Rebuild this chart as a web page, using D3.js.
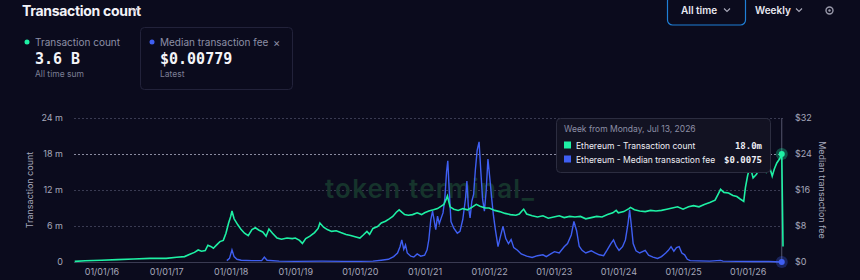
<!DOCTYPE html>
<html>
<head>
<meta charset="utf-8">
<script src="https://cdn.jsdelivr.net/npm/d3@7"></script>
<style>
  body { margin: 0; background: #0b0b1d; }
  svg { display: block; font-family: Inter, "Noto Sans", sans-serif; }
</style>
</head>
<body>
<div id="chart"></div>
<script>
// weekly transaction count (millions)
let countDates = ["2015-08-03","2015-10-01","2016-01-01","2016-04-01","2016-07-01","2016-10-01","2017-01-01","2017-03-01","2017-04-15","2017-05-15","2017-06-10","2017-07-01","2017-07-20","2017-08-10","2017-08-25","2017-09-10","2017-09-25","2017-10-15","2017-11-01","2017-11-20","2017-12-05","2017-12-20","2018-01-01","2018-01-08","2018-01-20","2018-02-10","2018-03-01","2018-03-20","2018-04-10","2018-05-01","2018-05-20","2018-06-10","2018-07-01","2018-07-20","2018-08-05","2018-08-25","2018-09-20","2018-10-15","2018-11-15","2018-12-15","2019-01-01","2019-01-25","2019-02-10","2019-03-01","2019-03-25","2019-04-20","2019-05-10","2019-05-20","2019-06-10","2019-07-01","2019-07-25","2019-08-20","2019-09-15","2019-10-15","2019-11-10","2019-12-05","2020-01-01","2020-01-20","2020-02-10","2020-02-25","2020-03-15","2020-04-10","2020-05-01","2020-05-25","2020-06-15","2020-07-05","2020-07-25","2020-08-10","2020-08-25","2020-09-10","2020-10-01","2020-10-25","2020-11-20","2020-12-15","2021-01-01","2021-01-25","2021-02-20","2021-03-15","2021-04-05","2021-04-20","2021-05-05","2021-05-10","2021-05-25","2021-06-15","2021-07-10","2021-08-05","2021-09-01","2021-09-25","2021-10-20","2021-11-10","2021-12-10","2022-01-01","2022-02-01","2022-03-01","2022-04-01","2022-05-01","2022-06-01","2022-06-20","2022-07-05","2022-07-15","2022-08-01","2022-09-01","2022-10-01","2022-11-01","2022-12-01","2023-01-01","2023-02-01","2023-03-01","2023-04-01","2023-05-01","2023-06-01","2023-07-01","2023-08-01","2023-09-01","2023-10-01","2023-11-01","2023-12-01","2023-12-20","2024-01-01","2024-02-01","2024-03-01","2024-03-10","2024-04-01","2024-05-01","2024-06-01","2024-07-01","2024-08-01","2024-09-01","2024-10-01","2024-11-01","2024-12-01","2025-01-01","2025-02-01","2025-03-01","2025-04-01","2025-05-01","2025-06-01","2025-07-01","2025-07-20","2025-08-01","2025-08-20","2025-09-15","2025-10-10","2025-11-01","2025-11-20","2025-12-10","2025-12-20","2026-01-01","2026-01-15","2026-02-01","2026-02-20","2026-03-05","2026-03-25","2026-04-15","2026-05-01","2026-05-20","2026-06-01","2026-06-15","2026-07-01","2026-07-13","2026-07-20"]
let countValues = [0.1,0.2,0.3,0.4,0.5,0.6,0.6,0.8,0.9,1.3,1.6,2.0,1.8,1.9,2.8,2.6,2.3,2.9,3.4,3.6,4.8,6.5,7.6,8.5,7.2,6.2,5.4,4.8,4.4,5.4,5.7,5.3,5.0,4.3,5.5,4.8,4.0,3.8,4.0,3.9,4.0,3.6,3.1,3.9,4.3,4.9,5.6,6.5,5.8,5.4,5.1,5.2,4.9,4.6,4.4,4.2,4.0,4.5,5.1,4.6,5.6,5.9,6.5,6.8,7.2,7.6,8.3,8.7,8.3,7.9,7.8,7.9,8.2,7.9,8.2,8.5,8.7,8.9,9.3,9.6,10.6,11.0,9.2,8.8,8.6,8.9,8.7,9.1,9.6,9.3,9.0,9.0,8.6,8.4,8.1,7.9,7.8,8.0,8.5,8.8,8.0,7.7,7.5,7.7,7.3,7.5,7.7,7.4,7.6,7.5,7.6,7.2,7.4,7.6,7.5,7.9,8.2,8.6,8.2,8.4,8.9,9.1,8.7,8.5,8.4,8.6,8.5,8.6,8.8,9.0,9.2,8.8,9.2,9.4,9.2,9.6,9.9,10.3,11.4,12.1,11.6,11.5,11.1,10.9,10.5,10.1,12.5,14.4,16.0,14.0,14.6,15.4,15.8,15.0,16.3,14.3,15.5,16.5,17.2,18.0,2.6]

// weekly median transaction fee ($)
let feeDates = ["2017-12-10","2017-12-25","2018-01-08","2018-01-20","2018-02-05","2018-03-01","2018-05-01","2018-06-25","2018-07-10","2018-07-25","2018-10-01","2019-01-01","2019-06-01","2019-10-01","2020-01-01","2020-03-15","2020-05-01","2020-06-10","2020-07-10","2020-08-01","2020-08-15","2020-08-25","2020-09-05","2020-09-15","2020-09-25","2020-10-15","2020-11-01","2020-11-20","2020-12-10","2021-01-01","2021-01-15","2021-01-25","2021-02-05","2021-02-15","2021-02-25","2021-03-05","2021-03-15","2021-03-25","2021-04-05","2021-04-15","2021-04-25","2021-05-05","2021-05-12","2021-05-20","2021-05-30","2021-06-15","2021-07-05","2021-07-20","2021-08-05","2021-08-20","2021-08-28","2021-09-05","2021-09-15","2021-09-25","2021-10-05","2021-10-15","2021-10-25","2021-11-05","2021-11-15","2021-11-25","2021-12-05","2021-12-15","2021-12-25","2022-01-05","2022-01-15","2022-01-25","2022-02-05","2022-02-20","2022-03-05","2022-03-20","2022-04-05","2022-04-20","2022-05-05","2022-05-20","2022-06-10","2022-07-01","2022-08-01","2022-09-01","2022-10-01","2022-11-01","2022-11-20","2022-12-15","2023-01-05","2023-02-01","2023-03-01","2023-03-20","2023-04-10","2023-04-25","2023-05-10","2023-05-25","2023-06-10","2023-07-01","2023-08-01","2023-08-20","2023-09-15","2023-10-10","2023-11-01","2023-11-20","2023-12-05","2023-12-20","2024-01-05","2024-01-25","2024-02-10","2024-02-25","2024-03-05","2024-03-15","2024-03-25","2024-04-10","2024-05-01","2024-06-01","2024-06-20","2024-07-15","2024-08-10","2024-09-01","2024-09-25","2024-10-10","2024-10-25","2024-11-10","2024-11-25","2024-12-10","2024-12-25","2025-01-10","2025-01-25","2025-02-10","2025-04-01","2025-06-01","2025-08-01","2025-08-15","2025-11-01","2026-02-01","2026-05-01","2026-07-13"]
let feeValues = [0.3,0.8,2.7,1.2,0.6,0.4,0.3,0.3,1.1,0.4,0.2,0.15,0.2,0.15,0.15,0.2,0.4,0.6,1.2,2.0,3.4,4.9,2.8,3.8,2.0,1.3,1.1,1.8,1.3,1.5,2.7,5.0,9.4,11.3,9.0,7.2,10.2,8.5,9.8,10.9,13.9,20.0,22.5,16.0,9.0,7.5,6.4,6.8,9.5,14.0,18.0,12.5,9.8,13.5,15.0,20.5,24.8,26.7,20.0,13.9,11.3,15.8,22.9,18.5,14.2,10.4,7.2,3.4,5.6,7.9,5.2,4.1,5.0,3.2,2.6,1.8,1.3,1.0,1.4,1.6,1.2,1.8,2.3,2.0,3.4,4.1,6.0,9.0,7.0,3.5,2.6,2.0,2.5,2.1,1.6,1.4,2.8,4.1,4.9,3.5,2.6,3.4,4.9,8.6,11.6,8.0,4.1,2.5,2.0,2.6,1.5,1.1,0.8,1.2,2.0,2.6,3.4,2.4,3.2,3.4,2.0,1.6,0.6,0.3,0.25,0.2,0.35,0.2,0.15,0.12,0.1,0.0075]

let countTicks = [0, 6, 12, 18, 24]
let feeTicks = [0, 8, 16, 24, 32]
let yearTicks = ["2016","2017","2018","2019","2020","2021","2022","2023","2024","2025","2026"]

let green = "#1ef0a4", blue = "#3f5ff2"
let parse = d3.timeParse("%Y-%m-%d")

let countData = countDates.map((d,i) => ({date: parse(d), value: countValues[i]}))
let feeData = feeDates.map((d,i) => ({date: parse(d), value: feeValues[i]}))

let W = 860, H = 280
let svg = d3.select("#chart").append("svg").attr("width", W).attr("height", H)

svg.append("rect").attr("width", W).attr("height", H).attr("fill", "#0b0b1d")

// header
svg.append("text").attr("x", 22).attr("y", 16).attr("fill", "#f2f2f7")
  .attr("font-size", 14).attr("font-weight", 700).attr("letter-spacing", -0.3).text("Transaction count")
svg.append("path").attr("d", "M131,8 l3.5,3.5 l3.5,-3.5").attr("fill", "none").attr("stroke", "#aab").attr("stroke-width", 1.2)

svg.append("rect").attr("x", 667.5).attr("y", -4).attr("width", 78).attr("height", 29).attr("rx", 5)
  .attr("fill", "none").attr("stroke", "#1f7fd6").attr("stroke-width", 1.2)
svg.append("text").attr("x", 681).attr("y", 14).attr("fill", "#e8e8f0").attr("font-size", 10).attr("font-weight", 600).text("All time")
svg.append("path").attr("d", "M724,8.5 l3,3 l3,-3").attr("fill", "none").attr("stroke", "#aab").attr("stroke-width", 1.1)
svg.append("text").attr("x", 755).attr("y", 14).attr("fill", "#e8e8f0").attr("font-size", 10).attr("font-weight", 600).text("Weekly")
svg.append("path").attr("d", "M796,8.5 l3,3 l3,-3").attr("fill", "none").attr("stroke", "#aab").attr("stroke-width", 1.1)
svg.append("circle").attr("cx", 829.5).attr("cy", 10.5).attr("r", 3.5).attr("fill", "none").attr("stroke", "#99a").attr("stroke-width", 1.4)
svg.append("circle").attr("cx", 829.5).attr("cy", 10.5).attr("r", 1.2).attr("fill", "#99a")

// metric cards
let cards = [
  {x: 27, color: green, label: "Transaction count", value: "3.6 B", sub: "All time sum"},
  {x: 152, color: blue, label: "Median transaction fee", value: "$0.00779", sub: "Latest"}
]
svg.append("rect").attr("x", 140.5).attr("y", 27.5).attr("width", 152).attr("height", 62).attr("rx", 4)
  .attr("fill", "none").attr("stroke", "#22223a")
cards.forEach(c => {
  svg.append("circle").attr("cx", c.x).attr("cy", 42).attr("r", 2.5).attr("fill", c.color)
  svg.append("text").attr("x", c.x + 8).attr("y", 46).attr("fill", "#8d8fa6").attr("font-size", 10).text(c.label)
  svg.append("text").attr("x", c.x + 8).attr("y", 64).attr("fill", "#f4f4f8").attr("font-size", 15)
    .attr("font-weight", 700).attr("font-family", "'DejaVu Sans Mono', monospace").text(c.value)
  svg.append("text").attr("x", c.x + 8).attr("y", 77).attr("fill", "#7c7e94").attr("font-size", 8.5).text(c.sub)
})
svg.append("text").attr("x", 273).attr("y", 47).attr("fill", "#8d8fa6").attr("font-size", 11).text("×")

// scales
let x = d3.scaleTime().domain([parse("2015-07-30"), parse("2026-07-20")]).range([74, 783])
let y = d3.scaleLinear().domain([0, 24]).range([262, 118])
let y2 = d3.scaleLinear().domain([0, 32]).range([262, 118])

// grid
svg.append("g").selectAll("line").data(countTicks.filter(d => d > 0)).enter().append("line")
  .attr("x1", 74).attr("x2", 783).attr("y1", d => y(d) + 0.5).attr("y2", d => y(d) + 0.5)
  .attr("stroke", "#3a3b52").attr("stroke-dasharray", "2,2")
svg.append("line").attr("x1", 74).attr("x2", 783).attr("y1", 262.5).attr("y2", 262.5).attr("stroke", "#3a3b52")

// axes
let yAxis = svg.append("g").attr("transform", "translate(66,0)")
  .call(d3.axisLeft(y).tickValues(countTicks).tickSize(0).tickPadding(3).tickFormat(d => d === 0 ? "0" : d + " m"))
let y2Axis = svg.append("g").attr("transform", "translate(792,0)")
  .call(d3.axisRight(y2).tickValues(feeTicks).tickSize(0).tickPadding(3).tickFormat(d => "$" + d))
let xAxis = svg.append("g").attr("transform", "translate(0,263)")
  .call(d3.axisBottom(x).tickValues(yearTicks.map(t => parse(t + "-01-01"))).tickSize(0).tickPadding(6)
    .tickFormat(d3.timeFormat("%m/%d/%y")))
;[yAxis, y2Axis, xAxis].forEach(a => {
  a.select(".domain").remove()
  a.selectAll("text").attr("fill", "#a6a8bb").attr("font-size", 9).attr("font-family", "Inter, sans-serif")
})

svg.append("text").attr("transform", "translate(33,190) rotate(-90)").attr("text-anchor", "middle")
  .attr("fill", "#a6a8bb").attr("font-size", 9).text("Transaction count")
svg.append("text").attr("transform", "translate(819,190) rotate(90)").attr("text-anchor", "middle")
  .attr("fill", "#a6a8bb").attr("font-size", 9).text("Median transaction fee")

// watermark
svg.append("text").attr("x", 325).attr("y", 198).attr("fill", "#16342c").attr("font-size", 26)
  .attr("font-weight", 600).attr("letter-spacing", 1.2).text("token terminal_")

// crosshair
let hx = x(parse("2026-07-13"))
svg.append("line").attr("x1", hx).attr("x2", hx).attr("y1", 118).attr("y2", 262).attr("stroke", "#55566c")
svg.append("line").attr("x1", 74).attr("x2", hx).attr("y1", y(18) + 0.5).attr("y2", y(18) + 0.5)
  .attr("stroke", "#8a8ba0").attr("stroke-dasharray", "2,2")

// lines
let line = d3.line().x(d => x(d.date)).y(d => y(d.value))
let line2 = d3.line().x(d => x(d.date)).y(d => y2(d.value))
svg.append("path").datum(feeData).attr("d", line2).attr("fill", "none").attr("stroke", blue).attr("stroke-width", 1.4)
svg.append("path").datum(countData).attr("d", line).attr("fill", "none").attr("stroke", green).attr("stroke-width", 1.6)

// hover dots
svg.append("circle").attr("cx", hx).attr("cy", y(18)).attr("r", 6).attr("fill", green).attr("opacity", 0.3)
svg.append("circle").attr("cx", hx).attr("cy", y(18)).attr("r", 3).attr("fill", green)
svg.append("circle").attr("cx", hx).attr("cy", y2(0.0075)).attr("r", 6).attr("fill", blue).attr("opacity", 0.3)
svg.append("circle").attr("cx", hx).attr("cy", y2(0.0075)).attr("r", 3).attr("fill", blue)

// tooltip
let tip = svg.append("g").attr("transform", "translate(556,118)")
tip.append("rect").attr("x", 0.5).attr("y", 0.5).attr("width", 214).attr("height", 54).attr("rx", 4)
  .attr("fill", "#121222").attr("stroke", "#2c2d40")
tip.append("text").attr("x", 8).attr("y", 14).attr("fill", "#8d8fa6").attr("font-size", 8.5).text("Week from Monday, Jul 13, 2026")
let rows = [
  {color: green, label: "Ethereum - Transaction count", value: "18.0m"},
  {color: blue, label: "Ethereum - Median transaction fee", value: "$0.0075"}
]
rows.forEach((r, i) => {
  let ry = 28 + i * 14
  tip.append("rect").attr("x", 8).attr("y", ry - 4.5).attr("width", 7).attr("height", 7).attr("fill", r.color)
  tip.append("text").attr("x", 20).attr("y", ry + 2.5).attr("fill", "#eeeef4").attr("font-size", 8.5).text(r.label)
  tip.append("text").attr("x", 206).attr("y", ry + 2.5).attr("text-anchor", "end").attr("fill", "#eeeef4")
    .attr("font-size", 9).attr("font-weight", 700).attr("font-family", "'DejaVu Sans Mono', monospace").text(r.value)
})
</script>
</body>
</html>
